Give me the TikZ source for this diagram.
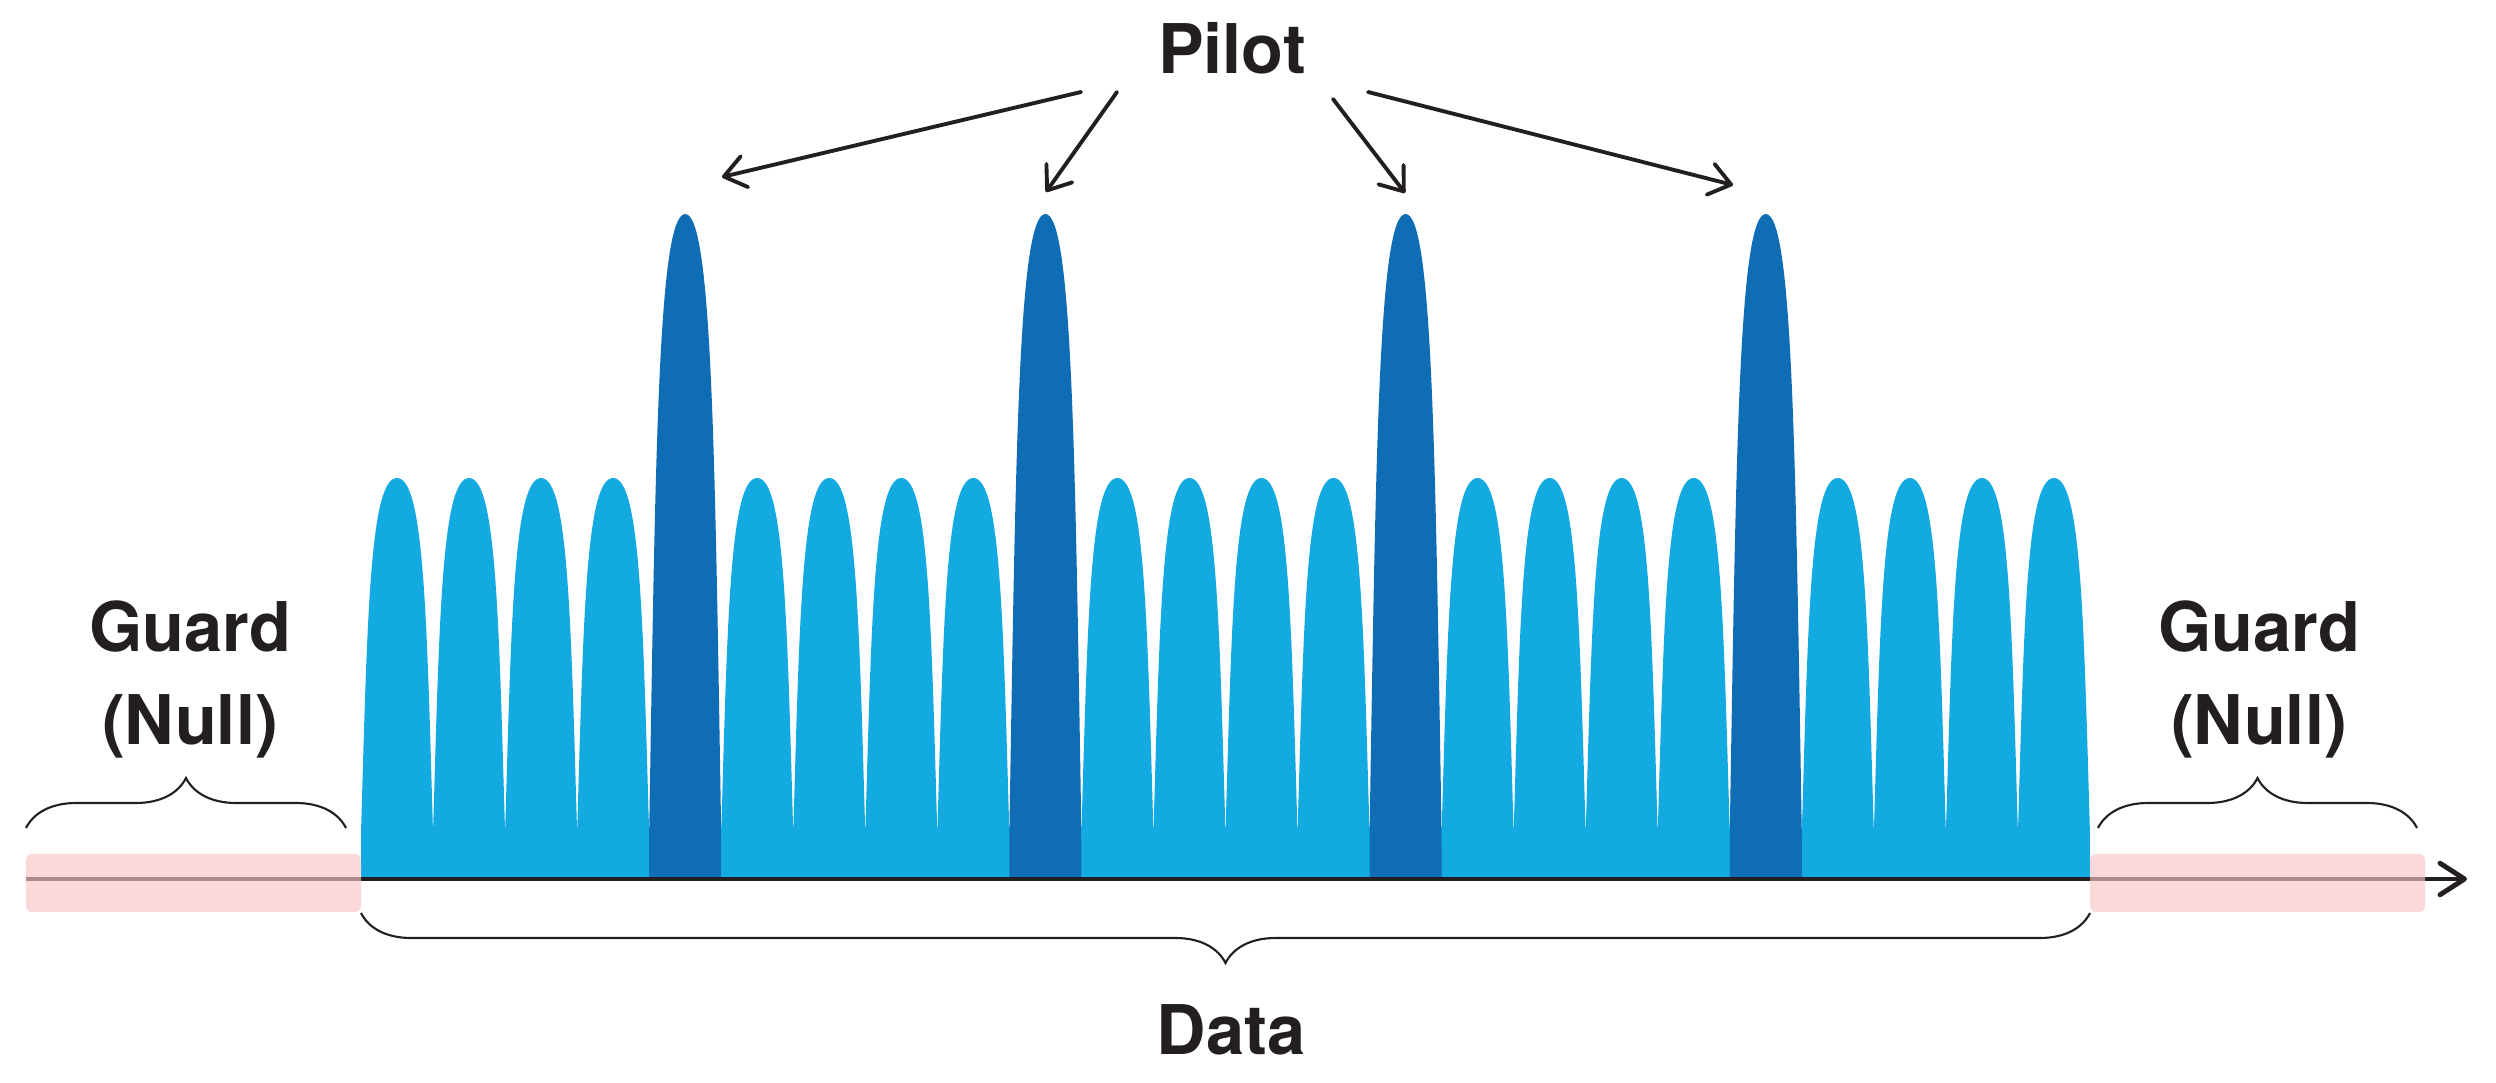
\documentclass[tikz,border=0pt]{standalone}
\usepackage{fontspec}
\setmainfont{TeX Gyre Heros}
\usepackage{tikz}
\usetikzlibrary{arrows.meta}
\usetikzlibrary{decorations.pathreplacing}
\definecolor{datablue}{RGB}{19,170,226}
\definecolor{pilotblue}{RGB}{14,109,181}
\definecolor{guardpink}{RGB}{249,195,196}
\definecolor{inkblack}{RGB}{35,31,32}

\begin{document}
\begin{tikzpicture}[
    lbl/.style={font=\bfseries\fontsize{19.5}{26.7}\selectfont, text=inkblack, inner sep=0pt},
    pointer/.style={line width=1.1pt, draw=inkblack, line cap=round, -{Straight Barb[length=6pt,width=9pt,round]}},
    bracedeco/.style={decorate, decoration={brace, amplitude=0.5cm}, line width=0.6pt, draw=inkblack},
    guardbox/.style={fill=guardpink, fill opacity=0.65, rounded corners=0.06cm}
  ]
  \useasboundingbox (0,0) rectangle (24.96,10.82);

  % band under the subcarriers
  \fill[datablue] (3.61,2.03) rectangle (20.90,2.55);

  \foreach \i in {0,...,23} {
    \pgfmathsetmacro{\xl}{3.61+0.7204*\i}
    \pgfmathtruncatemacro{\ispilot}{mod(\i,5)==4}
    \ifnum\ispilot=1
      \def\lobecol{pilotblue}\def\yb{2.03}\def\h{6.19}
    \else
      \def\lobecol{datablue}\def\yb{2.40}\def\h{3.55}
    \fi
    \fill[\lobecol] (\xl,\yb) -- (\xl,2.49)
      .. controls (\xl+0.062,2.49+0.6*\h) and (\xl+0.0864,2.49+\h) .. (\xl+0.3602,2.49+\h)
      .. controls (\xl+0.634,2.49+\h) and (\xl+0.6584,2.49+0.6*\h) .. (\xl+0.7204,2.49)
      -- (\xl+0.7204,\yb) -- cycle;
  }

  \draw[line width=1.4pt, inkblack, -{Straight Barb[length=7pt,width=9pt,round]}] (0.26,2.03) -- (24.67,2.03);

  \fill[guardbox] (0.26,1.70) rectangle (3.61,2.28);
  \fill[guardbox] (20.90,1.70) rectangle (24.25,2.28);

  \draw[bracedeco] (0.26,2.54) -- (3.46,2.54);
  \draw[bracedeco] (20.98,2.54) -- (24.17,2.54);
  \draw[bracedeco] (20.90,1.69) -- (3.61,1.69);

  \node[lbl, align=center, anchor=base] (guardL) at (1.90,3.37) {Guard\\(Null)};
  \node[lbl, align=center, anchor=base] (guardR) at (22.59,3.37) {Guard\\(Null)};
  \node[lbl, anchor=base] (data) at (12.31,0.27) {Data};
  \node[lbl, anchor=base] (pilot) at (12.32,10.08) {Pilot};

  \coordinate (s1) at (10.81,9.90);
  \coordinate (s2) at (11.17,9.90);
  \coordinate (s3) at (13.33,9.83);
  \coordinate (s4) at (13.68,9.90);
  \coordinate (t1) at (7.22,9.05);
  \coordinate (t2) at (10.46,8.90);
  \coordinate (t3) at (14.05,8.89);
  \coordinate (t4) at (17.33,8.97);
  \foreach \s/\t in {s1/t1, s2/t2, s3/t3, s4/t4}
    \draw[pointer] (\s) -- (\t);
\end{tikzpicture}
\end{document}
